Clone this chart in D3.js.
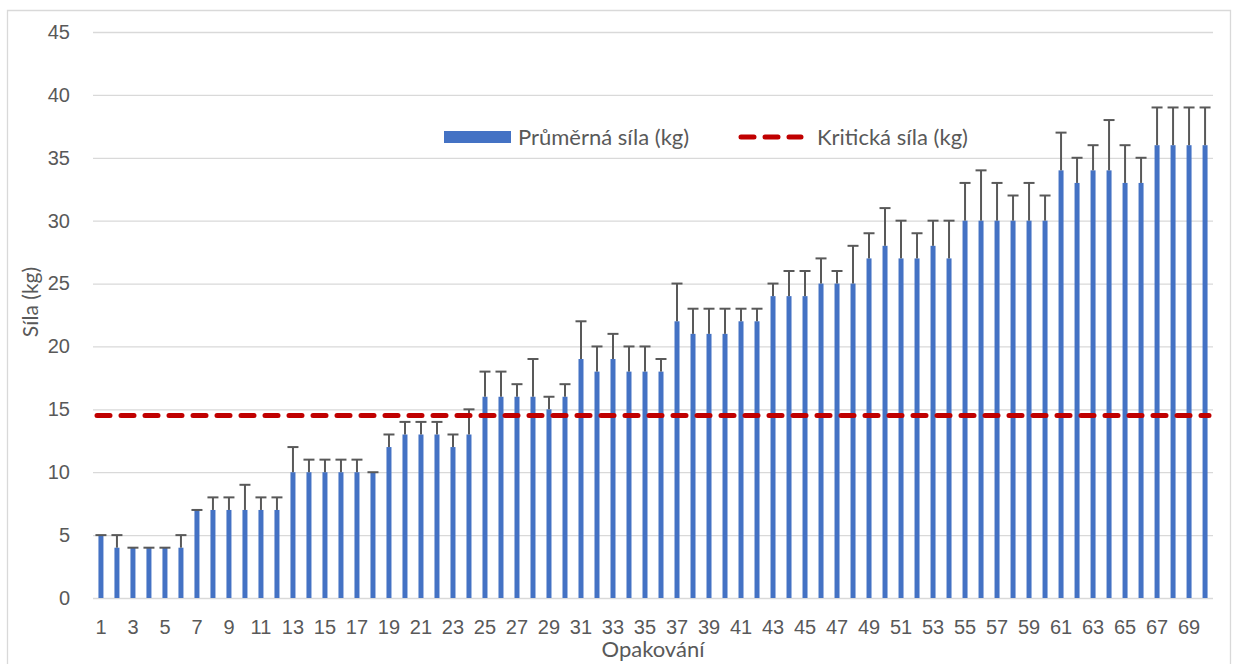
<!DOCTYPE html>
<html>
<head>
<meta charset="utf-8">
<script src="https://cdn.jsdelivr.net/npm/d3@7"></script>
<style>
  body { margin: 0; background: #fff; }
  svg { font-family: Lato, "Open Sans", sans-serif; }
</style>
</head>
<body>
<svg id="chart" width="1234" height="664"></svg>
<script>
// opakování 1..70
const repetitions = d3.range(1, 71);
// průměrná síla (kg)
const meanForce = [
  5, 4, 4, 4, 4, 4, 7, 7, 7, 7,
  7, 7, 10, 10, 10, 10, 10, 10, 12, 13,
  13, 13, 12, 13, 16, 16, 16, 16, 15, 16,
  19, 18, 19, 18, 18, 18, 22, 21, 21, 21,
  22, 22, 24, 24, 24, 25, 25, 25, 27, 28,
  27, 27, 28, 27, 30, 30, 30, 30, 30, 30,
  34, 33, 34, 34, 33, 33, 36, 36, 36, 36
];
// horní konec chybové úsečky
const errorTop = [
  5, 5, 4, 4, 4, 5, 7, 8, 8, 9,
  8, 8, 12, 11, 11, 11, 11, 10, 13, 14,
  14, 14, 13, 15, 18, 18, 17, 19, 16, 17,
  22, 20, 21, 20, 20, 19, 25, 23, 23, 23,
  23, 23, 25, 26, 26, 27, 26, 28, 29, 31,
  30, 29, 30, 30, 33, 34, 33, 32, 33, 32,
  37, 35, 36, 38, 36, 35, 39, 39, 39, 39
];
const criticalForce = 14.5;
const yTicks = [0, 5, 10, 15, 20, 25, 30, 35, 40, 45];
const xTickLabels = repetitions.filter(d => d % 2 === 1);

const svg = d3.select('#chart');
const margin = { top: 32, right: 21, bottom: 66, left: 93 };
const width = 1234, height = 664;
const innerWidth = width - margin.left - margin.right;
const innerHeight = height - margin.top - margin.bottom;

// rámeček grafu (spodní hrana je mimo obrázek)
svg.append('path')
  .attr('d', 'M7.5,664 V10.5 H1230.5 V664')
  .attr('fill', 'none').attr('stroke', '#d9d9d9').attr('stroke-width', 1.3);

const g = svg.append('g').attr('transform', `translate(${margin.left},${margin.top})`);

const xScale = d3.scaleBand()
  .domain(repetitions)
  .range([0, innerWidth])
  .paddingInner(0.6875)
  .paddingOuter(0.34);

const yScale = d3.scaleLinear()
  .domain([0, 45])
  .range([innerHeight, 0]);

// mřížka + osa y
const yAxis = d3.axisLeft(yScale).tickValues(yTicks).tickSize(-innerWidth).tickPadding(23);
g.append('g').call(yAxis)
  .call(s => s.select('.domain').remove())
  .call(s => s.selectAll('line').attr('stroke', '#d9d9d9').attr('stroke-width', 1.3))
  .call(s => s.selectAll('text').attr('fill', '#595959').attr('font-size', 20));

// osa x
const xAxis = d3.axisBottom(xScale).tickValues(xTickLabels).tickSize(0).tickPadding(22);
g.append('g').attr('transform', `translate(0,${innerHeight})`).call(xAxis)
  .call(s => s.select('.domain').remove())
  .call(s => s.selectAll('text').attr('fill', '#595959').attr('font-size', 20));

// sloupce
g.selectAll('rect.bar')
  .data(meanForce)
  .enter()
  .append('rect')
  .attr('class', 'bar')
  .attr('x', (d, i) => xScale(repetitions[i]))
  .attr('y', d => yScale(d))
  .attr('width', xScale.bandwidth())
  .attr('height', d => innerHeight - yScale(d))
  .attr('fill', '#4472c4');

// chybové úsečky
const errG = g.append('g').attr('stroke', '#595959').attr('stroke-width', 2);
errorTop.forEach((top, i) => {
  const cx = xScale(repetitions[i]) + xScale.bandwidth() / 2;
  if (top > meanForce[i]) {
    errG.append('line')
      .attr('x1', cx).attr('x2', cx)
      .attr('y1', yScale(meanForce[i])).attr('y2', yScale(top));
  }
  errG.append('line')
    .attr('x1', cx - 5.5).attr('x2', cx + 5.5)
    .attr('y1', yScale(top)).attr('y2', yScale(top));
});

// kritická síla
g.append('line')
  .attr('x1', 4).attr('x2', innerWidth - 4)
  .attr('y1', yScale(criticalForce)).attr('y2', yScale(criticalForce))
  .attr('stroke', '#c00000')
  .attr('stroke-width', 5)
  .attr('stroke-linecap', 'round')
  .attr('stroke-dasharray', '13,11');

// legenda
const legend = svg.append('g').attr('transform', 'translate(444,137)');
legend.append('rect')
  .attr('x', 0).attr('y', -6).attr('width', 67).attr('height', 12)
  .attr('fill', '#4472c4');
legend.append('text')
  .attr('x', 74).attr('y', 8)
  .attr('fill', '#595959').attr('font-size', 22)
  .text('Průměrná síla (kg)');
legend.append('line')
  .attr('x1', 297).attr('x2', 357).attr('y1', 0).attr('y2', 0)
  .attr('stroke', '#c00000').attr('stroke-width', 5)
  .attr('stroke-linecap', 'round').attr('stroke-dasharray', '13,11');
legend.append('text')
  .attr('x', 373).attr('y', 8)
  .attr('fill', '#595959').attr('font-size', 22)
  .text('Kritická síla (kg)');

// názvy os
svg.append('text')
  .attr('transform', `translate(38,${margin.top + innerHeight / 2 - 13}) rotate(-90)`)
  .attr('text-anchor', 'middle')
  .attr('fill', '#595959').attr('font-size', 21)
  .text('Síla (kg)');

svg.append('text')
  .attr('x', margin.left + innerWidth / 2)
  .attr('y', 657)
  .attr('text-anchor', 'middle')
  .attr('fill', '#595959').attr('font-size', 22)
  .text('Opakování');
</script>
</body>
</html>
